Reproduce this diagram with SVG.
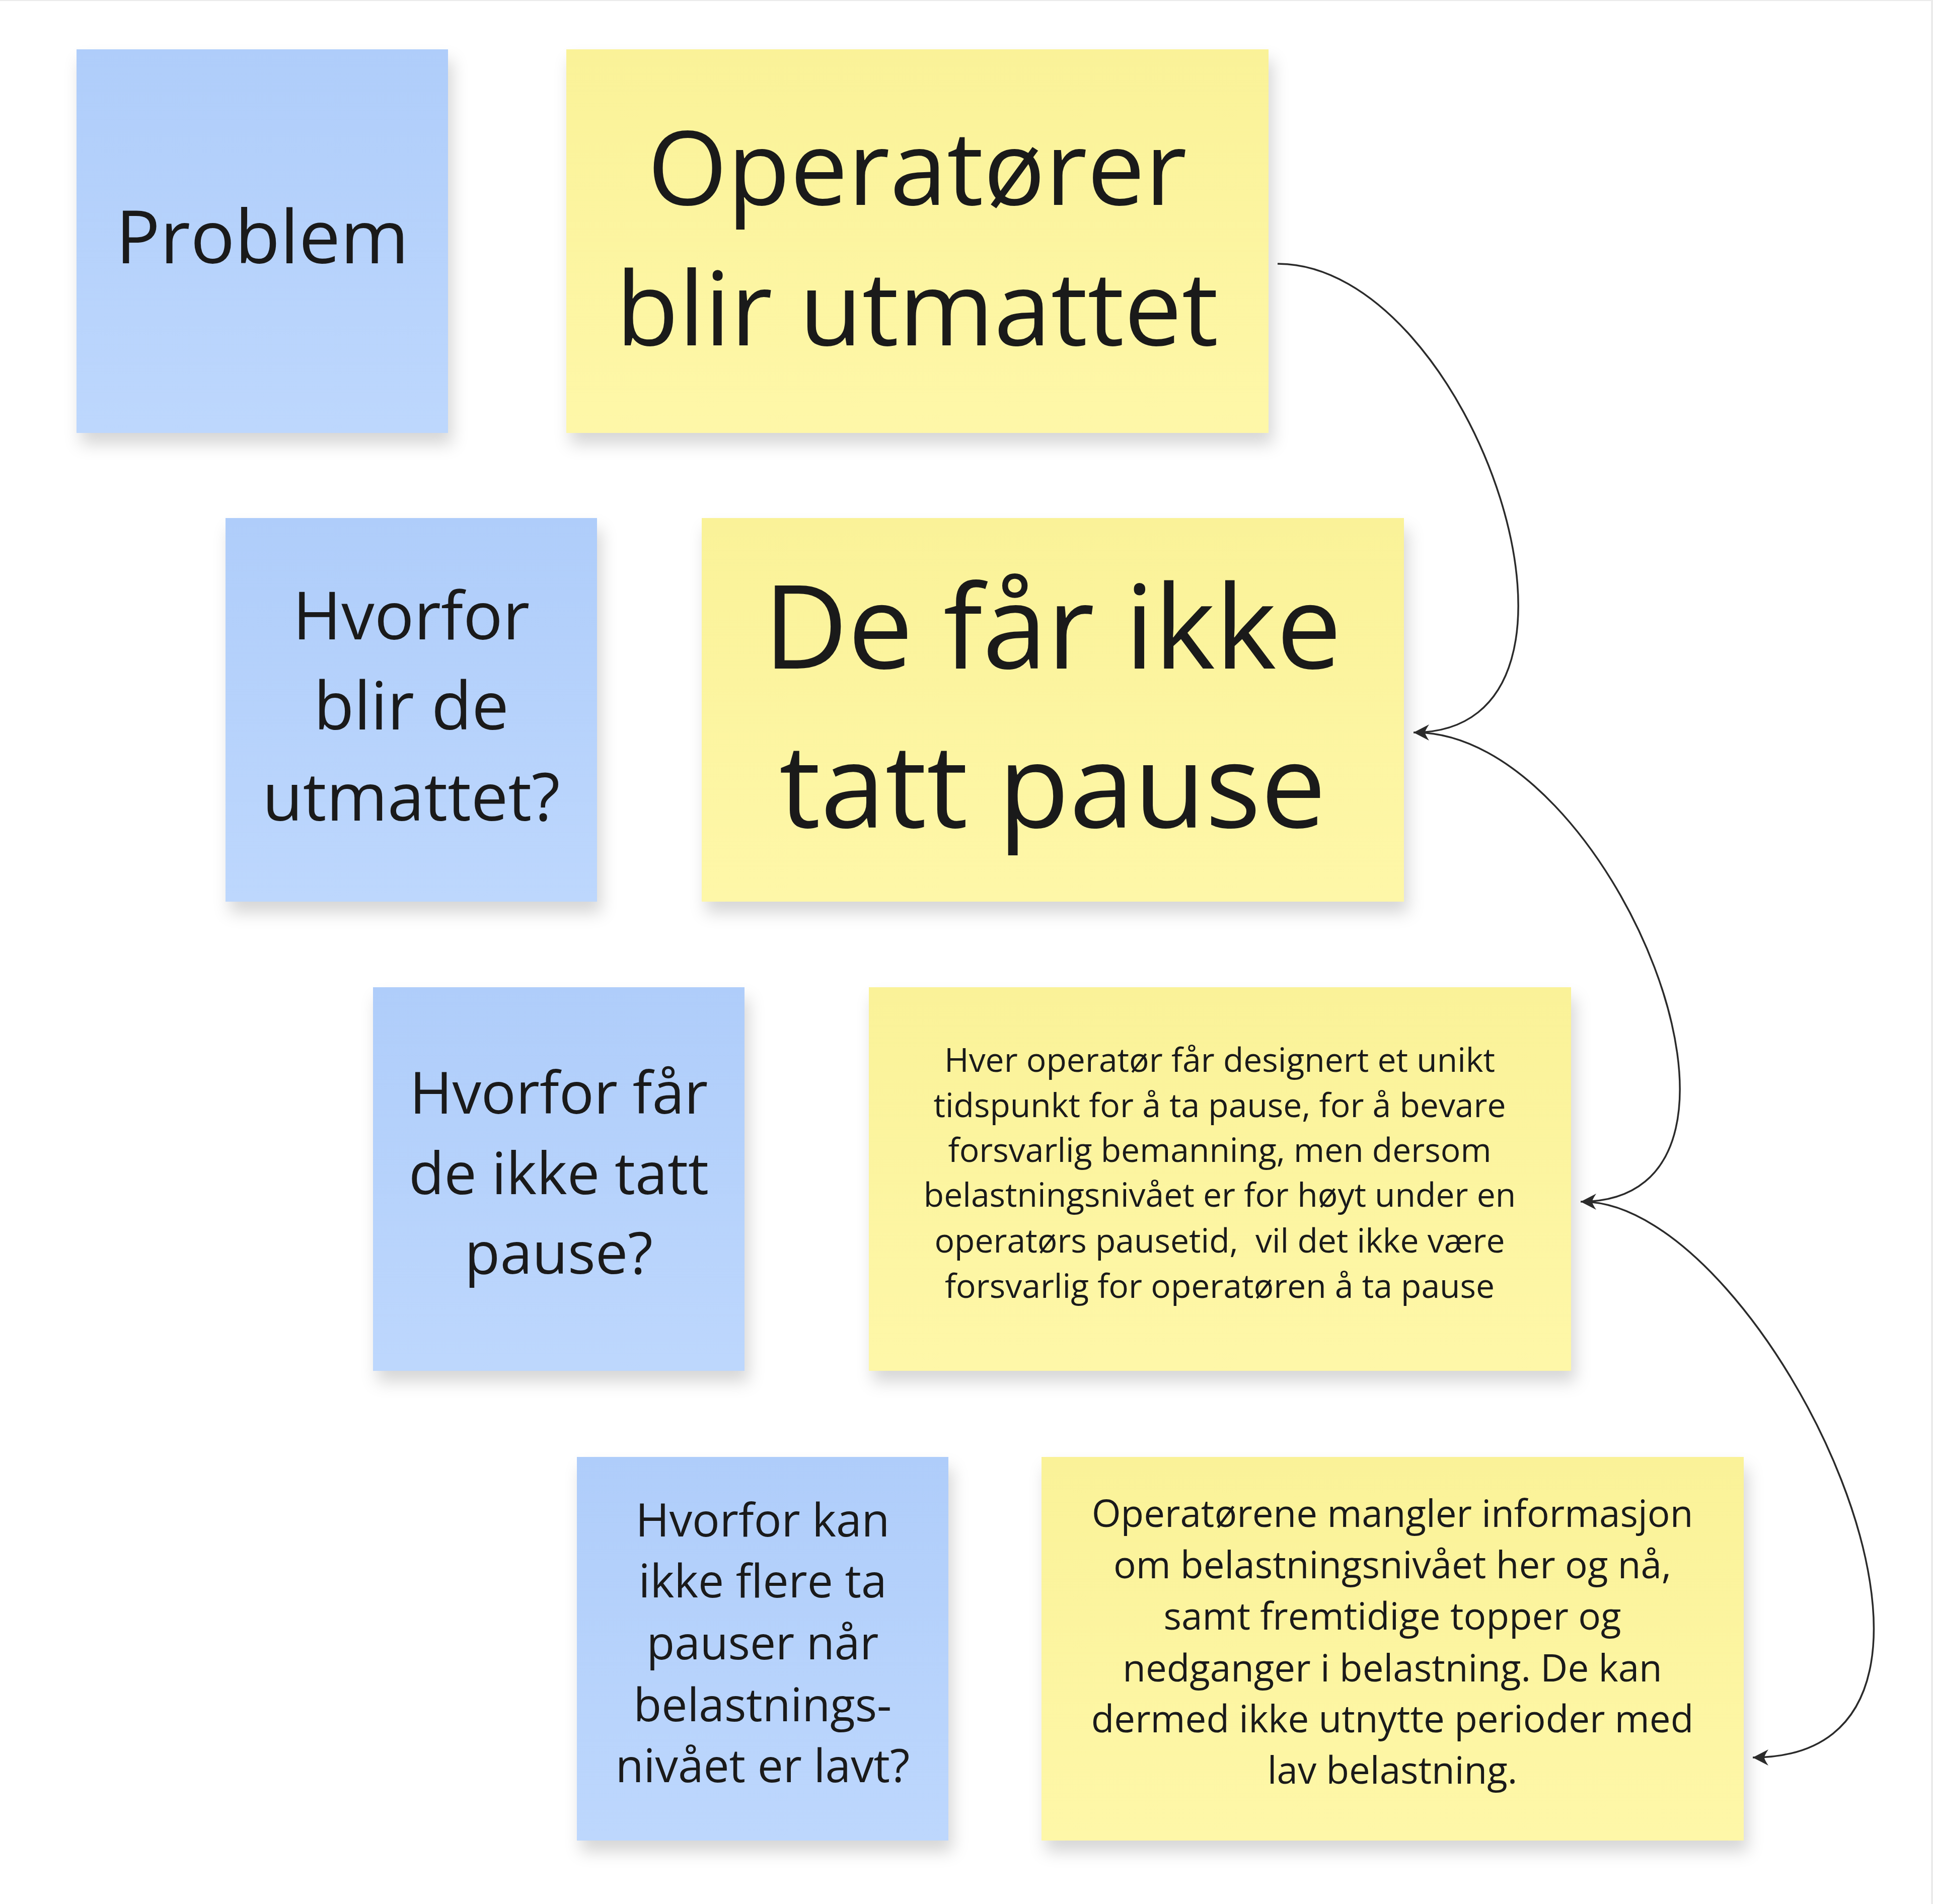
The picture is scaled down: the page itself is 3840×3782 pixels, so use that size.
<svg xmlns="http://www.w3.org/2000/svg" width="3840" height="3782" viewBox="0 0 3840 3782">
<defs>
<linearGradient id="gBlue" x1="0" y1="0" x2="0" y2="1">
<stop offset="0" stop-color="#AFCDFA"/>
<stop offset="1" stop-color="#BDD7FD"/>
</linearGradient>
<linearGradient id="gYellow" x1="0" y1="0" x2="0" y2="1">
<stop offset="0" stop-color="#FAF298"/>
<stop offset="1" stop-color="#FEF7A8"/>
</linearGradient>
<filter id="shadow" x="-10%" y="-10%" width="130%" height="130%">
<feDropShadow dx="8" dy="22" stdDeviation="16" flood-color="#000" flood-opacity="0.16"/>
</filter>
<marker id="arrowhead" markerUnits="userSpaceOnUse" markerWidth="44" markerHeight="44" viewBox="-34 -22 44 44" refX="0" refY="0" orient="auto">
<path d="M0,0 L-31,-16 Q-23,-4 -23,0 Q-23,4 -31,16 Z" fill="#2b2b2b"/>
</marker>
</defs>
<style>
.blue{fill:url(#gBlue);filter:url(#shadow);}
.yellow{fill:url(#gYellow);filter:url(#shadow);}
text{font-family:"Open Sans","Noto Sans",sans-serif;fill:#1a1a1a;text-anchor:middle;}
.conn{fill:none;stroke:#2b2b2b;stroke-width:3.5;marker-end:url(#arrowhead);}
</style>
<rect x="0" y="0" width="3840" height="3782" fill="#ffffff"/>
<rect x="3836" y="0" width="4" height="3782" fill="#ebebeb"/>
<rect x="0" y="0" width="3840" height="2" fill="#ebebeb"/>

<g id="node-problem">
<rect class="blue" x="152" y="98" width="738" height="762"/>
<text x="521" y="523" font-size="147">Problem</text>
</g>
<g id="node-operatorer">
<rect class="yellow" x="1125" y="98" width="1395" height="762"/>
<text x="1822" y="407" font-size="204">Operatører</text>
<text x="1822" y="686" font-size="204">blir utmattet</text>
</g>
<g id="node-hvorfor1">
<rect class="blue" x="448" y="1029" width="738" height="762"/>
<text x="817" y="1270" font-size="131">Hvorfor</text>
<text x="817" y="1449" font-size="131">blir de</text>
<text x="817" y="1630" font-size="131">utmattet?</text>
</g>
<g id="node-defar">
<rect class="yellow" x="1394" y="1029" width="1395" height="762"/>
<text x="2091" y="1328" font-size="231">De får ikke</text>
<text x="2091" y="1644" font-size="231">tatt pause</text>
</g>
<g id="node-hvorfor2">
<rect class="blue" x="741" y="1961" width="738" height="762"/>
<text x="1110" y="2212" font-size="115">Hvorfor får</text>
<text x="1110" y="2372" font-size="115">de ikke tatt</text>
<text x="1110" y="2530" font-size="115">pause?</text>
</g>
<g id="node-hver">
<rect class="yellow" x="1726" y="1961" width="1395" height="762"/>
<text x="2423" y="2129" font-size="66">Hver operatør får designert et unikt</text>
<text x="2423" y="2219" font-size="66">tidspunkt for å ta pause, for å bevare</text>
<text x="2423" y="2308" font-size="66">forsvarlig bemanning, men dersom</text>
<text x="2423" y="2397" font-size="66">belastningsnivået er for høyt under en</text>
<text x="2423" y="2488" font-size="66" xml:space="preserve">operatørs pausetid,  vil det ikke være</text>
<text x="2423" y="2578" font-size="66">forsvarlig for operatøren å ta pause</text>
</g>
<g id="node-hvorfor3">
<rect class="blue" x="1146" y="2894" width="738" height="762"/>
<text x="1515" y="3052" font-size="91">Hvorfor kan</text>
<text x="1515" y="3173" font-size="91">ikke flere ta</text>
<text x="1515" y="3296" font-size="91">pauser når</text>
<text x="1515" y="3419" font-size="91">belastnings-</text>
<text x="1515" y="3540" font-size="91">nivået er lavt?</text>
</g>
<g id="node-operatorene">
<rect class="yellow" x="2069" y="2894" width="1395" height="762"/>
<text x="2766" y="3033" font-size="74.5">Operatørene mangler informasjon</text>
<text x="2766" y="3135" font-size="74.5">om belastningsnivået her og nå,</text>
<text x="2766" y="3237" font-size="74.5">samt fremtidige topper og</text>
<text x="2766" y="3340" font-size="74.5">nedganger i belastning. De kan</text>
<text x="2766" y="3441" font-size="74.5">dermed ikke utnytte perioder med</text>
<text x="2766" y="3543" font-size="74.5">lav belastning.</text>
</g>

<g id="connectors">
<path class="conn" d="M2538,524 C2925,524 3240,1455 2808,1455"/>
<path class="conn" d="M2812,1455 C3200,1455 3580,2387 3140,2387"/>
<path class="conn" d="M3144,2387 C3510,2387 4035,3491 3482,3491"/>
</g>
</svg>
